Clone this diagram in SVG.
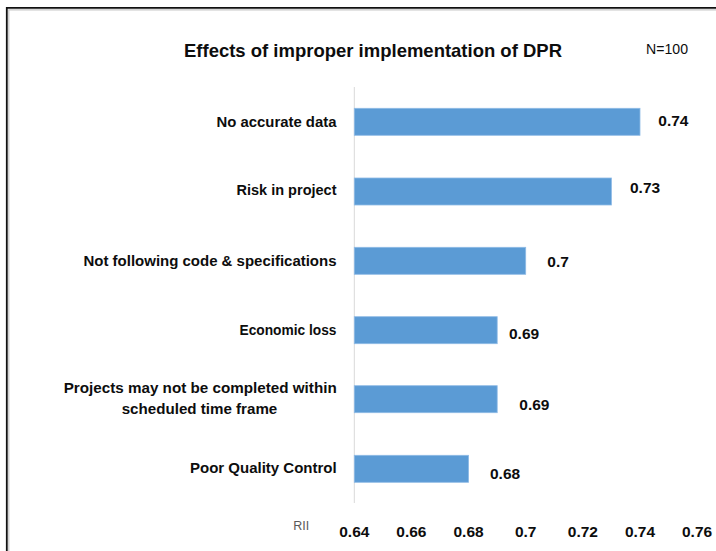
<svg xmlns="http://www.w3.org/2000/svg" width="716" height="551" viewBox="0 0 716 551">
  <style>
    text { font-family: "Liberation Sans", Arial, sans-serif; fill: #0d0d0d; }
    .cat { font-size: 15px; font-weight: bold; text-anchor: end; }
    .val { font-size: 15.5px; font-weight: bold; }
    .tick { font-size: 15.5px; font-weight: bold; text-anchor: middle; }
    .bar { fill: #5b9bd5; stroke: #8fbbe6; stroke-width: 0.8; }
  </style>
  <rect width="716" height="551" fill="#ffffff"/>

  <!-- frame with inner soft edge -->
  <path d="M8.8 560 V9.8 H720" fill="none" stroke="#c8c8c8" stroke-width="1.2"/>
  <path d="M6.8 560 V7.8 H720" fill="none" stroke="#111111" stroke-width="1.8"/>

  <!-- title and sample size -->
  <text x="184" y="57.3" font-size="18.5" font-weight="bold" textLength="378" lengthAdjust="spacingAndGlyphs">Effects  of improper implementation of DPR</text>
  <text x="646" y="54" font-size="14" fill="#262626" textLength="42" lengthAdjust="spacingAndGlyphs">N=100</text>

  <!-- category axis -->
  <g id="axis">
    <line x1="354.3" y1="87" x2="354.3" y2="503" stroke="#d9d9d9" stroke-width="1"/>
    <text x="293.3" y="530" font-size="12.5" style="fill:#595959">RII</text>
    <text class="tick" x="354.3" y="536.5">0.64</text>
    <text class="tick" x="411.4" y="536.5">0.66</text>
    <text class="tick" x="468.6" y="536.5">0.68</text>
    <text class="tick" x="525.7" y="536.5">0.7</text>
    <text class="tick" x="582.9" y="536.5">0.72</text>
    <text class="tick" x="640" y="536.5">0.74</text>
    <text class="tick" x="697.1" y="536.5">0.76</text>
  </g>

  <g id="bar-no-accurate-data">
    <rect class="bar" x="354.3" y="108.3" width="285.7" height="27"/>
    <text class="cat" x="336.5" y="126.7" textLength="120" lengthAdjust="spacingAndGlyphs">No accurate data</text>
    <text class="val" x="658.3" y="125.5">0.74</text>
  </g>

  <g id="bar-risk-in-project">
    <rect class="bar" x="354.3" y="178" width="257.1" height="27"/>
    <text class="cat" x="336.5" y="194.5" textLength="100" lengthAdjust="spacingAndGlyphs">Risk in project</text>
    <text class="val" x="630" y="192.5">0.73</text>
  </g>

  <g id="bar-not-following-code">
    <rect class="bar" x="354.3" y="247.3" width="171.4" height="27"/>
    <text class="cat" x="336.5" y="265.5" textLength="253" lengthAdjust="spacingAndGlyphs">Not following code &amp; specifications</text>
    <text class="val" x="547.3" y="266.7">0.7</text>
  </g>

  <g id="bar-economic-loss">
    <rect class="bar" x="354.3" y="316.7" width="142.9" height="27"/>
    <text class="cat" x="336.5" y="335" textLength="97" lengthAdjust="spacingAndGlyphs">Economic loss</text>
    <text class="val" x="509" y="339.3">0.69</text>
  </g>

  <g id="bar-projects-not-completed">
    <rect class="bar" x="354.3" y="385.7" width="142.9" height="27"/>
    <text class="cat" x="336.7" y="393.3" textLength="273" lengthAdjust="spacingAndGlyphs">Projects may not be completed within</text>
    <text class="cat" x="277.3" y="414" textLength="155.6" lengthAdjust="spacingAndGlyphs">scheduled time frame</text>
    <text class="val" x="519.3" y="410">0.69</text>
  </g>

  <g id="bar-poor-quality-control">
    <rect class="bar" x="354.3" y="455.3" width="114.3" height="27"/>
    <text class="cat" x="336.7" y="473.3" textLength="146.7" lengthAdjust="spacingAndGlyphs">Poor Quality Control</text>
    <text class="val" x="490" y="479">0.68</text>
  </g>
</svg>
